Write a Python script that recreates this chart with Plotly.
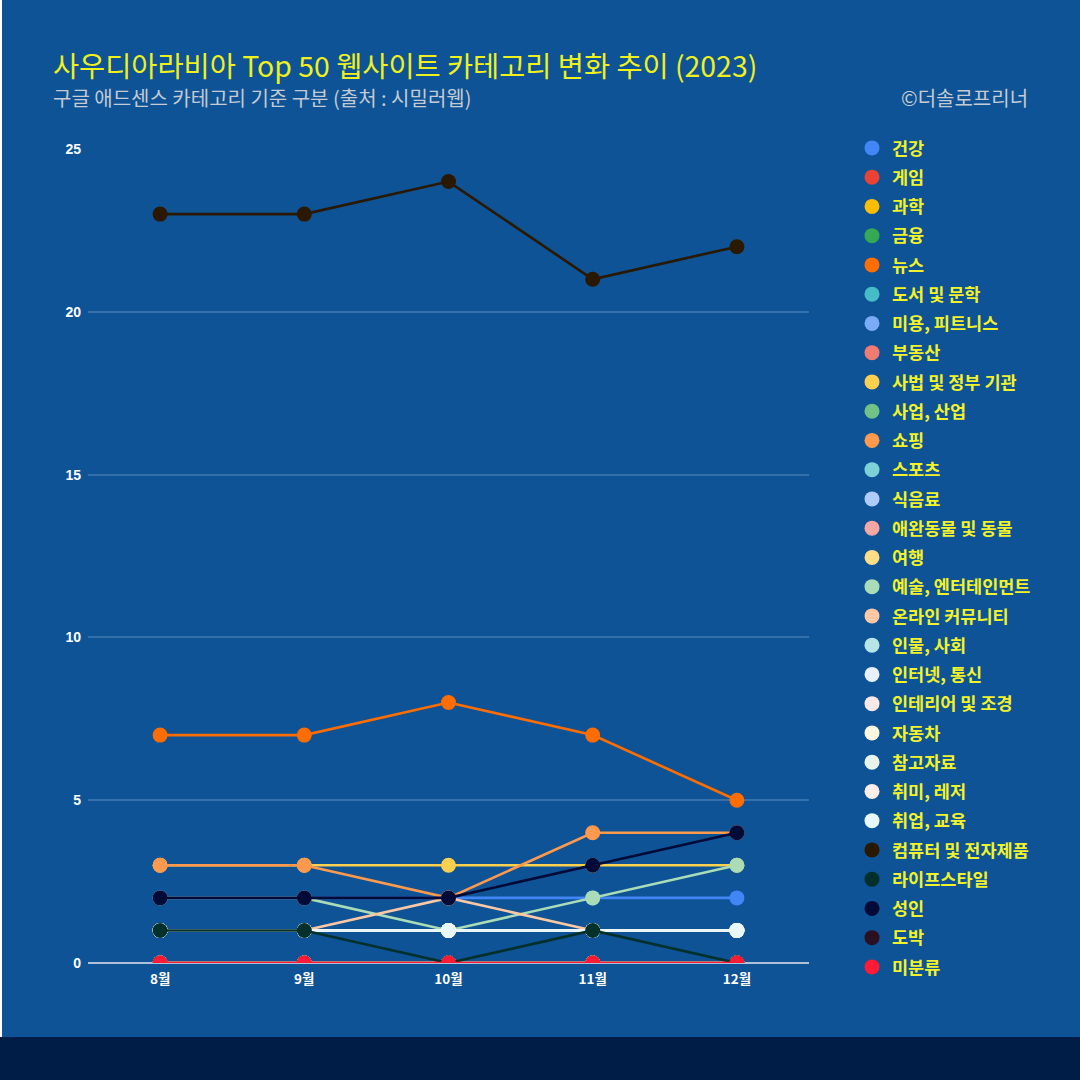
import plotly.graph_objects as go

months = ["8월", "9월", "10월", "11월", "12월"]

categories = [
    "건강", "게임", "과학", "금융", "뉴스", "도서 및 문학", "미용, 피트니스", "부동산",
    "사법 및 정부 기관", "사업, 산업", "쇼핑", "스포츠", "식음료", "애완동물 및 동물",
    "여행", "예술, 엔터테인먼트", "온라인 커뮤니티", "인물, 사회", "인터넷, 통신",
    "인테리어 및 조경", "자동차", "참고자료", "취미, 레저", "취업, 교육",
    "컴퓨터 및 전자제품", "라이프스타일", "성인", "도박", "미분류",
]

colors = [
    "#4285F4", "#EA4335", "#FBBC04", "#34A853", "#FF6D01", "#46BDC6", "#7BAAF7", "#F07B72",
    "#FCD04F", "#71C287", "#FF994D", "#7ED1D7", "#AECBFA", "#F7A7A1",
    "#FDDE87", "#AADCB7", "#FFC8A5", "#B6E4E7", "#E8F0FE",
    "#FCE8E6", "#FEF7E0", "#E6F4EA", "#FDEDE8", "#E8F7F8",
    "#2B1800", "#03302A", "#020A38", "#2A1020", "#FF1A35",
]

values = {
    "건강": [2, 2, 2, 2, 2],
    "게임": [0, 0, 0, 0, 0],
    "과학": [0, 0, 0, 0, 0],
    "금융": [0, 0, 0, 0, 0],
    "뉴스": [7, 7, 8, 7, 5],
    "도서 및 문학": [0, 0, 0, 0, 0],
    "미용, 피트니스": [0, 0, 0, 0, 0],
    "부동산": [0, 0, 0, 0, 0],
    "사법 및 정부 기관": [3, 3, 3, 3, 3],
    "사업, 산업": [0, 0, 0, 0, 0],
    "쇼핑": [3, 3, 2, 4, 4],
    "스포츠": [0, 0, 0, 0, 0],
    "식음료": [0, 0, 0, 0, 0],
    "애완동물 및 동물": [0, 0, 0, 0, 0],
    "여행": [0, 0, 0, 0, 0],
    "예술, 엔터테인먼트": [2, 2, 1, 2, 3],
    "온라인 커뮤니티": [1, 1, 2, 1, 1],
    "인물, 사회": [0, 0, 0, 0, 0],
    "인터넷, 통신": [1, 1, 1, 1, 1],
    "인테리어 및 조경": [1, 1, 1, 1, 1],
    "자동차": [1, 1, 1, 1, 1],
    "참고자료": [1, 1, 1, 1, 1],
    "취미, 레저": [1, 1, 1, 1, 1],
    "취업, 교육": [1, 1, 1, 1, 1],
    "컴퓨터 및 전자제품": [23, 23, 24, 21, 22],
    "라이프스타일": [1, 1, 0, 1, 0],
    "성인": [2, 2, 2, 3, 4],
    "도박": [0, 0, 0, 0, 0],
    "미분류": [0, 0, 0, 0, 0],
}

y_ticks = [0, 5, 10, 15, 20, 25]

title_text = "사우디아라비아 Top 50 웹사이트 카테고리 변화 추이 (2023)"
subtitle_text = "구글 애드센스 카테고리 기준 구분 (출처 : 시밀러웹)"
credit_text = "©더솔로프리너"

# ---- layout geometry ----
W, H = 1078, 1037
ML, MR, MT, MB = 86, 271, 149, 74
PW, PH = W - ML - MR, H - MT - MB


def px_x(x):
    return (x - ML) / PW


def px_y(y):
    return (H - MB - y) / PH


FONT = "Noto Sans CJK KR, Noto Sans, sans-serif"

fig = go.Figure()
for i, (cat, col) in enumerate(zip(categories, colors)):
    fig.add_trace(go.Scatter(
        x=months, y=values[cat], mode="lines",
        line=dict(color=col, width=2.6),
        legendgroup=f"g{i}", showlegend=False, hoverinfo="skip",
    ))
    fig.add_trace(go.Scatter(
        x=months, y=values[cat], mode="markers", name=cat,
        marker=dict(color=col, size=15),
        legendgroup=f"g{i}", showlegend=True,
    ))

fig.update_layout(
    width=W, height=H,
    margin=dict(l=ML, r=MR, t=MT, b=MB),
    paper_bgcolor="#0D5395",
    plot_bgcolor="#0D5395",
    font=dict(family=FONT, color="white"),
    showlegend=True,
    legend=dict(
        xref="container", yref="container",
        x=(852 - 2) / W, y=1 - 130 / H,
        xanchor="left", yanchor="top",
        font=dict(family=FONT, size=17.5, color="#F2F22A", weight="bold"),
        tracegroupgap=3.5,
        maxheight=980,
        bgcolor="rgba(0,0,0,0)",
        itemclick=False,
    ),
    xaxis=dict(
        type="category", range=[-0.5, 4.5],
        showgrid=False, showline=False, zeroline=False,
        ticks="", ticklabelstandoff=6,
        tickfont=dict(family=FONT, size=13.5, color="white", weight="bold"),
    ),
    yaxis=dict(
        range=[0, 25], tickvals=y_ticks,
        showgrid=True, gridcolor="#3470AC", gridwidth=2,
        zeroline=True, zerolinecolor="#B0C0D6", zerolinewidth=2,
        ticks="", tickfont=dict(family="Liberation Sans, Arial", size=14, color="white", weight="bold"),
        ticklabelstandoff=6,
    ),
    annotations=[
        dict(text=title_text, xref="paper", yref="paper", x=px_x(49), y=px_y(65),
             xanchor="left", yanchor="middle", showarrow=False,
             font=dict(family=FONT, size=28.4, color="#F0F01C")),
        dict(text=subtitle_text, xref="paper", yref="paper", x=px_x(49), y=px_y(97),
             xanchor="left", yanchor="middle", showarrow=False,
             font=dict(family=FONT, size=20, color="#C5CAD3")),
        dict(text=credit_text, xref="paper", yref="paper", x=px_x(1028), y=px_y(97),
             xanchor="right", yanchor="middle", showarrow=False,
             font=dict(family=FONT, size=20, color="#C5CAD3")),
    ],
)

post = """
document.body.style.margin = '0';
document.body.style.background = '#001D48';
var d = document.querySelector('.plotly-graph-div');
d.style.borderLeft = '2px solid #FFFFFF';
"""

fig.write_html("out.html", post_script=post)
